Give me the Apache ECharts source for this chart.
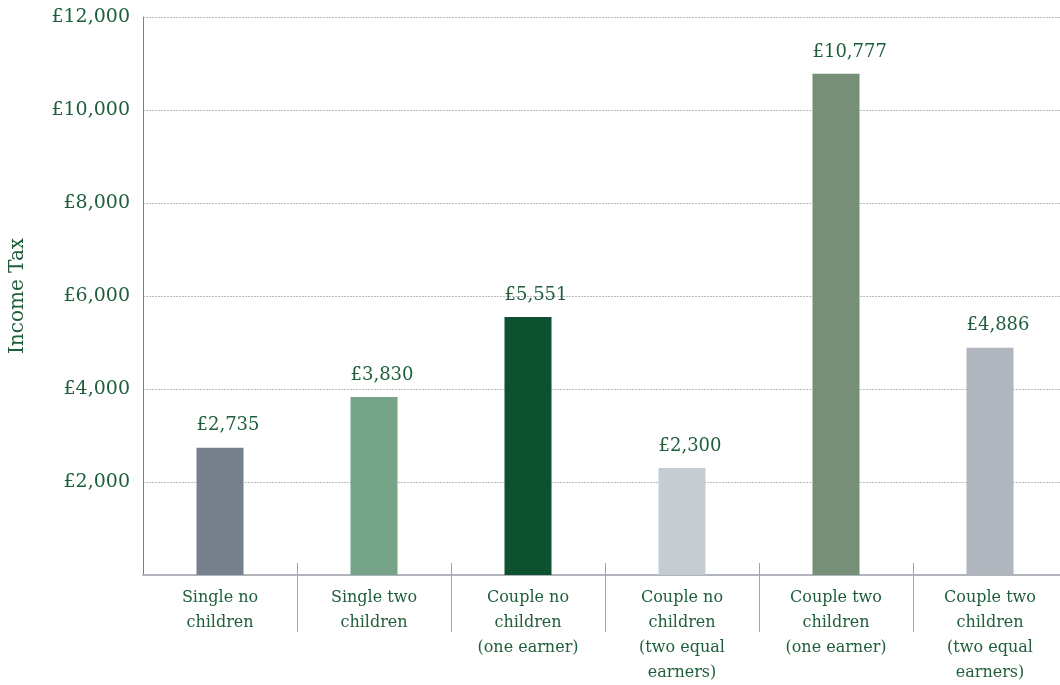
<!DOCTYPE html>
<html>
<head>
<meta charset="utf-8">
<script src="https://cdn.jsdelivr.net/npm/echarts@6/dist/echarts.min.js"></script>
<style>html,body{margin:0;padding:0;background:#fff}#c{width:1060px;height:685px}</style>
</head>
<body>
<div id="c"></div>
<script>
const categories = ['Single no\nchildren', 'Single two\nchildren', 'Couple no\nchildren\n(one earner)', 'Couple no\nchildren\n(two equal\nearners)', 'Couple two\nchildren\n(one earner)', 'Couple two\nchildren\n(two equal\nearners)'];
const values = [2735, 3830, 5551, 2300, 10777, 4886];
const barColors = ['#76818d', '#75a488', '#0e5130', '#c5cdd3', '#768f76', '#b1b5bd'];
const yTicks = [0, 2000, 4000, 6000, 8000, 10000, 12000];

const FONT = '"DejaVu Serif", "Liberation Serif", serif';
const TXT = '#1e5e3a';
const fmt = v => '£' + Number(v).toLocaleString('en-GB');

const chart = echarts.init(document.getElementById('c'));
chart.setOption({
  animation: false,
  grid: { left: 143, top: 17, bottom: 110, right: -7, outerBoundsMode: 'none', containLabel: false },
  xAxis: [{
    type: 'category',
    data: categories,
    axisLine: { lineStyle: { color: '#b0b4bb', width: 2 } },
    axisTick: { show: true, length: 57, interval: i => i > 0, lineStyle: { color: '#a0a5ad', width: 1 } },
    axisLabel: { color: TXT, fontFamily: FONT, fontSize: 16, lineHeight: 25, margin: 10, interval: 0 }
  }, {
    type: 'category',
    data: categories,
    position: 'bottom',
    axisLine: { show: false },
    axisTick: { show: true, inside: true, length: 12, interval: i => i > 0, lineStyle: { color: '#a0a5ad', width: 1 } },
    axisLabel: { show: false }
  }],
  yAxis: {
    type: 'value',
    min: yTicks[0],
    max: yTicks[yTicks.length - 1],
    interval: 2000,
    name: 'Income Tax',
    nameLocation: 'middle',
    nameRotate: 90,
    nameGap: 115,
    nameTextStyle: { color: TXT, fontFamily: FONT, fontSize: 20 },
    axisLine: { show: true, lineStyle: { color: '#7a8088', width: 1 } },
    axisTick: { show: false },
    axisLabel: { color: TXT, fontFamily: FONT, fontSize: 19, margin: 13, formatter: v => v === 0 ? '' : fmt(v) },
    splitLine: { show: true, lineStyle: { color: '#b8bcc2', type: [2, 1], width: 1 } }
  },
  series: [{
    type: 'bar',
    data: values.map((v, i) => ({ value: v, itemStyle: { color: barColors[i] } })),
    barWidth: 47,
    label: { show: true, position: [0, -13], align: 'left', verticalAlign: 'bottom', color: TXT, fontFamily: FONT, fontSize: 18, formatter: p => fmt(p.value) }
  }]
});
</script>
</body>
</html>
